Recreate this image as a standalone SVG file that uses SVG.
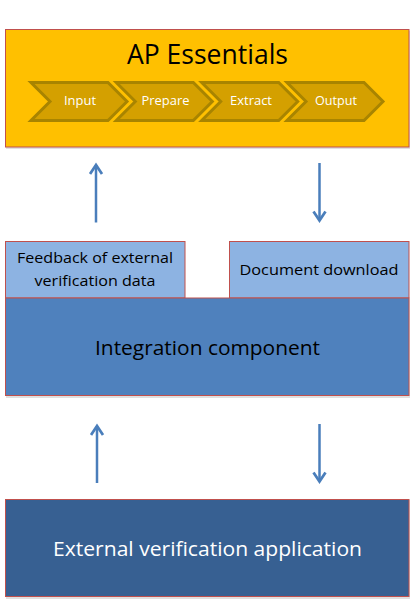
<svg xmlns="http://www.w3.org/2000/svg" width="415" height="605" viewBox="0 0 415 605">
<style>
.box{stroke:#C0504D;stroke-width:1}
.chev{fill:#D4A000;stroke:#A88400;stroke-width:3;stroke-linejoin:miter}
.t{font-family:"Open Sans","Liberation Sans",sans-serif;text-anchor:middle}
.ct{font-size:12px;fill:#FFFFFF}
.conn{stroke:#4A7EBB;stroke-width:2.5;fill:none}
.shadow{fill:#000;opacity:0.12}
</style>
<defs>
<marker id="ah" markerWidth="6" markerHeight="6" refX="4.2" refY="3" orient="auto" markerUnits="strokeWidth">
<path d="M0.6,0.6 L4.2,3 L0.6,5.4" fill="none" stroke="#4A7EBB" stroke-width="1.1"/>
</marker>
</defs>
<rect width="415" height="605" fill="#FFFFFF"/>

<g id="ap-essentials">
<rect class="shadow" x="6" y="31" width="404" height="118"/>
<rect class="box" x="5.5" y="29.5" width="403.5" height="117.5" fill="#FFC000"/>
<text class="t" x="207.5" y="64" font-size="27" fill="#000" textLength="161" lengthAdjust="spacingAndGlyphs">AP Essentials</text>
<g id="step-input">
<polygon class="chev" points="31,82.5 108,82.5 127,101.5 108,120.5 31,120.5 50,101.5"/>
<text class="t ct" x="80" y="105" textLength="32" lengthAdjust="spacingAndGlyphs">Input</text>
</g>
<g id="step-prepare">
<polygon class="chev" points="116.3,82.5 193.3,82.5 212.3,101.5 193.3,120.5 116.3,120.5 135.3,101.5"/>
<text class="t ct" x="165.5" y="105" textLength="48" lengthAdjust="spacingAndGlyphs">Prepare</text>
</g>
<g id="step-extract">
<polygon class="chev" points="201.7,82.5 278.7,82.5 297.7,101.5 278.7,120.5 201.7,120.5 220.7,101.5"/>
<text class="t ct" x="251" y="105" textLength="42" lengthAdjust="spacingAndGlyphs">Extract</text>
</g>
<g id="step-output">
<polygon class="chev" points="287,82.5 364,82.5 383,101.5 364,120.5 287,120.5 306,101.5"/>
<text class="t ct" x="336" y="105" textLength="42" lengthAdjust="spacingAndGlyphs">Output</text>
</g>
</g>

<g id="feedback">
<rect class="box" x="5.5" y="241.5" width="179.5" height="56.5" fill="#8DB3E2"/>
<text class="t" x="95" y="263" font-size="15" fill="#000" textLength="156" lengthAdjust="spacingAndGlyphs">Feedback of external</text>
<text class="t" x="95" y="286" font-size="15" fill="#000" textLength="121" lengthAdjust="spacingAndGlyphs">verification data</text>
</g>

<g id="document-download">
<rect class="box" x="229.5" y="241.5" width="179.5" height="56.5" fill="#8DB3E2"/>
<text class="t" x="319" y="275" font-size="15" fill="#000" textLength="159" lengthAdjust="spacingAndGlyphs">Document download</text>
</g>

<g id="integration-component">
<rect class="shadow" x="6" y="299" width="404" height="99"/>
<rect class="box" x="5.5" y="298" width="403.5" height="97.5" fill="#4F81BD"/>
<text class="t" x="207.5" y="355" font-size="20" fill="#000" textLength="225" lengthAdjust="spacingAndGlyphs">Integration component</text>
</g>

<g id="external-verification">
<rect class="shadow" x="6" y="500" width="404" height="99"/>
<rect class="box" x="5.5" y="499.5" width="403.5" height="97" fill="#376092"/>
<text class="t" x="207.5" y="556" font-size="20" fill="#FFFFFF" textLength="309" lengthAdjust="spacingAndGlyphs">External verification application</text>
</g>

<g id="connectors">
<line class="conn" x1="96" y1="222.5" x2="96" y2="165" marker-end="url(#ah)"/>
<line class="conn" x1="319.5" y1="163" x2="319.5" y2="220.5" marker-end="url(#ah)"/>
<line class="conn" x1="97" y1="483" x2="97" y2="426" marker-end="url(#ah)"/>
<line class="conn" x1="319.5" y1="424" x2="319.5" y2="481.5" marker-end="url(#ah)"/>
</g>
</svg>
